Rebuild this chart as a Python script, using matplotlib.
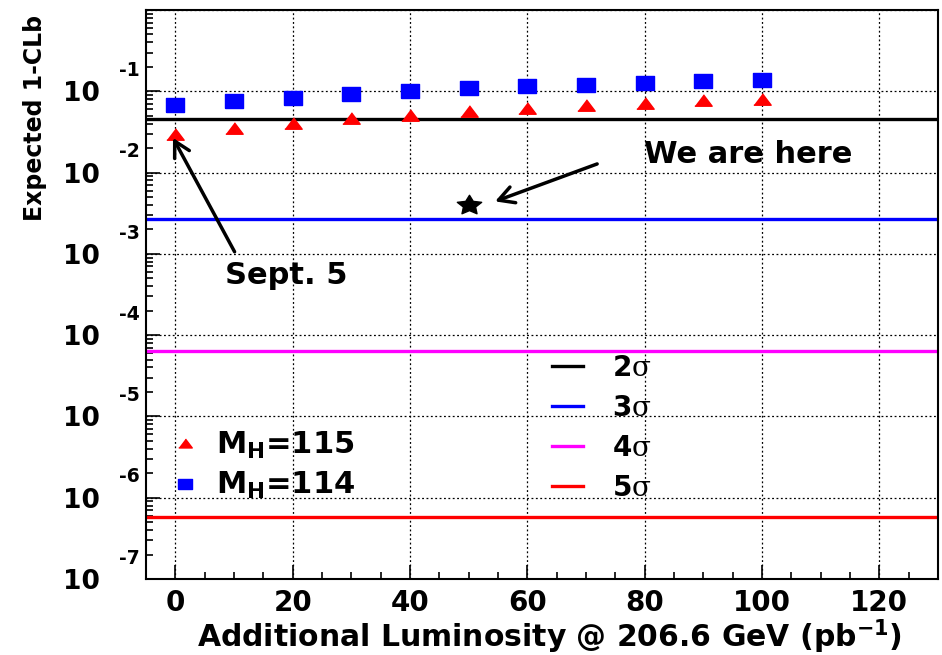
import numpy as np
import matplotlib.pyplot as plt
from matplotlib.path import Path
from matplotlib.lines import Line2D
from matplotlib.ticker import MultipleLocator, LogLocator, NullFormatter

plt.rcParams["font.family"] = ["DejaVu Sans"]
plt.rcParams["font.weight"] = "bold"
plt.rcParams["axes.labelweight"] = "bold"
plt.rcParams["mathtext.fontset"] = "custom"
plt.rcParams["mathtext.bf"] = "DejaVu Sans:bold"
plt.rcParams["mathtext.rm"] = "DejaVu Sans:bold"
plt.rcParams["mathtext.it"] = "DejaVu Serif:weight=normal"

# data
lumi = [0, 10, 20, 30, 40, 50, 60, 70, 80, 90, 100]
clb_115 = [0.0295, 0.0354, 0.0403, 0.0465, 0.0512, 0.0578, 0.0625, 0.0681, 0.0720, 0.0774, 0.0813]
clb_114 = [0.0686, 0.0762, 0.0836, 0.0918, 0.100, 0.1089, 0.1153, 0.121, 0.1256, 0.1328, 0.1393]
now_lumi = [50]
now_clb = [0.00403]

sigma_names = ["2", "3", "4", "5"]
sigma_levels = [4.55e-2, 2.7e-3, 6.33e-5, 5.73e-7]
sigma_colors = ["#000000", "#0000ff", "#ff00ff", "#ff0000"]

decades = [-7, -6, -5, -4, -3, -2, -1]
x_ticks = [0, 20, 40, 60, 80, 100, 120]

# ROOT-ish marker shapes (the original canvas is stretched sideways)
tri = [(-1, -0.66), (1, -0.66), (0, 0.66)]
box = [(-1, -0.78), (1, -0.78), (1, 0.78), (-1, 0.78), (-1, -0.78)]
star_path = Path.unit_regular_star(5)
star = Path(star_path.vertices * [1.25, 1.0], star_path.codes)

fig = plt.figure(figsize=(9.42, 6.55), dpi=100)
ax = fig.add_axes([146 / 942, 1 - 579 / 655, (938 - 146) / 942, (579 - 10) / 655])
ax.set_yscale("log")
ax.set_xlim(-5, 130)
ax.set_ylim(1e-7, 1)

ax.grid(True, which="major", color="black", linestyle=(0, (1.5, 2)), linewidth=0.9, zorder=1)

for lvl, col in zip(sigma_levels, sigma_colors):
    ax.axhline(lvl, color=col, lw=2.4, zorder=2)

h115, = ax.plot(lumi, clb_115, linestyle="none", marker=tri, ms=12.5,
                color="#ff0000", mec="#ff0000", zorder=4)
h114, = ax.plot(lumi, clb_114, linestyle="none", marker=box, ms=13,
                color="#0000ff", mec="#0000ff", zorder=4)
ax.plot(now_lumi, now_clb, linestyle="none", marker=star, ms=17.5,
        color="black", zorder=4)

# arrows + notes
arrow = dict(arrowstyle="->,head_length=0.55,head_width=0.3", lw=2.5, color="black",
             shrinkA=0, shrinkB=0, mutation_scale=20)
ax.annotate("", xy=(-0.4, 0.0267), xytext=(10.1, 1.06e-3), arrowprops=arrow, zorder=5)
ax.annotate("", xy=(54.5, 0.00442), xytext=(71.9, 0.01277), arrowprops=arrow, zorder=5)
ax.text(18.9, 5.37e-4, "Sept. 5", fontsize=22, ha="center", va="center")
ax.text(97.6, 0.0166, "We are here", fontsize=22, ha="center", va="center")

# axes
ax.set_xticks(x_ticks)
ax.xaxis.set_minor_locator(MultipleLocator(5))
ax.set_yticks([10.0 ** d for d in decades] + [1.0])
ax.set_yticklabels(["10"] * len(decades) + [""])
ax.yaxis.set_minor_locator(LogLocator(base=10, subs=np.arange(2, 10), numticks=30))
ax.yaxis.set_minor_formatter(NullFormatter())
ax.tick_params(which="both", direction="in", top=False, right=False, width=1.2)
ax.tick_params(which="major", length=10)
ax.tick_params(which="minor", length=5)
ax.tick_params(axis="x", labelsize=20, pad=7)
ax.tick_params(axis="y", labelsize=19, pad=33)
for s in ax.spines.values():
    s.set_linewidth(1.5)

# exponents of the y labels, ROOT style
for d in decades:
    ax.text(-0.0076, 10.0 ** (d + 0.255), str(d), transform=ax.get_yaxis_transform(),
            fontsize=13.5, ha="right", va="center")

ax.set_xlabel(r"Additional Luminosity @ 206.6 GeV (pb$^{\mathbf{-1}}$)", fontsize=21.5)
ax.xaxis.set_label_coords((550 - 146) / 792, (579 - 646) / 569)
ax.xaxis.label.set_va("baseline")
ax.set_ylabel("Expected 1-CLb", fontsize=17)
ax.yaxis.set_label_coords(-0.125, 0.811)

# legends
leg1 = ax.legend([h115, h114], [r"M$_{\mathbf{H}}$=115", r"M$_{\mathbf{H}}$=114"],
                 loc="upper left", bbox_to_anchor=(170 / 942, 1 - 430 / 655),
                 bbox_transform=fig.transFigure, frameon=False, fontsize=22,
                 handlelength=1.0, handletextpad=0.5, labelspacing=0.3,
                 markerscale=0.78, borderpad=0, borderaxespad=0)
ax.add_artist(leg1)

sig_handles = [Line2D([], [], color=c, lw=2.4) for c in sigma_colors]
sig_labels = [n + r"$\sigma$" for n in sigma_names]
ax.legend(sig_handles, sig_labels, loc="upper left",
          bbox_to_anchor=(552 / 942, 1 - 354 / 655), bbox_transform=fig.transFigure,
          frameon=False, fontsize=20, handlelength=1.12, handletextpad=1.04,
          labelspacing=0.43, borderpad=0, borderaxespad=0)

fig.savefig("out.png", dpi=100)
